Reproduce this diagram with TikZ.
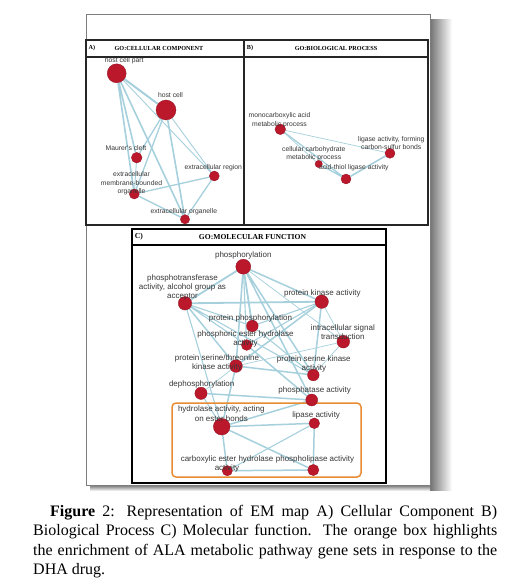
\documentclass[tikz,border=0pt]{standalone}
\usepackage{fontspec}
\setmainfont{Liberation Serif}
\newfontfamily\mapfont{Liberation Sans}
\usetikzlibrary{positioning,backgrounds}
\definecolor{termred}{RGB}{188,24,44}
\definecolor{edgeblue}{RGB}{166,208,220}
\definecolor{boxorange}{RGB}{232,140,52}
\definecolor{labelgrey}{RGB}{55,55,55}
\definecolor{framegrey}{RGB}{125,125,125}

\begin{document}
\begin{tikzpicture}[x=1pt, y=-1pt,
    term/.style={circle, fill=termred, draw=termred!75!black, line width=0.3pt,
                 inner sep=0pt, minimum size=#1},
    term/.default=10pt,
    lbl/.style={font=\mapfont\fontsize{6.8}{8.5}\selectfont, text=labelgrey,
                align=center, inner sep=0pt},
    lblbig/.style={lbl, font=\mapfont\fontsize{8}{9.2}\selectfont},
    link/.style={draw=edgeblue, line width=#1},
    link/.default=1.2pt,
    head/.style={font=\fontsize{6.2}{7}\selectfont\bfseries, inner sep=0pt},
    panel/.style={draw=black!85, line width=1.2pt}]
\useasboundingbox (0,0) rectangle (509,585);
\begin{scope}[on background layer]
\fill[white] (0,0) rectangle (509,585);
\end{scope}
% page shadow and frame
\shade[left color=black!55, right color=white] (430,20) rectangle (452,490);
\shade[top color=black!55, bottom color=white] (90,485) rectangle (430,491);
\draw[framegrey, line width=0.8pt] (86,14) rectangle (430,485);
% panels A and B
\draw[panel] (86,40) rectangle (428,225);
\draw[panel] (86,57) -- (428,57);
\draw[panel] (244,40) -- (244,225);
\node[head] (ha) at (92,48.5) {A)};
\node[head] (ta) at (159,48.5) {GO:CELLULAR COMPONENT};
\node[head] (hb) at (250,48.5) {B)};
\node[head] (tb) at (336,48.5) {GO:BIOLOGICAL PROCESS};
% panel C
\draw[panel, draw=black, line width=1.5pt] (132,229) rectangle (386,483);
\draw[panel, draw=black, line width=1.5pt] (132,245) -- (386,245);
\node[head, font=\fontsize{7.6}{8}\selectfont\bfseries] (hc) at (139,237) {C)};
\node[head, font=\fontsize{7.6}{8}\selectfont\bfseries] (tc) at (252.5,237) {GO:MOLECULAR FUNCTION};
% orange highlight box
\draw[boxorange, line width=1.5pt, rounded corners=4pt] (172,403) rectangle (361,477);

% A) cellular component
\node[term=19pt] (hcp) at (116.7,73.3) {};
\node[term=20pt] (hcl) at (166,110) {};
\node[term=10.7pt] (mc) at (136.7,157.7) {};
\node[term=10pt] (er) at (214.3,176) {};
\node[term=10pt] (emb) at (134.3,194) {};
\node[term=9.3pt] (eo) at (185,219.3) {};
\node[lbl] (l-hcp) at (124.2,60.7) {host cell part};
\node[lbl] (l-hcl) at (170.5,95) {host cell};
\node[lbl] (l-mc) at (126,148.3) {Maurer's cleft};
\node[lbl] (l-er) at (213.3,167.3) {extracellular region};
\node[lbl] (l-emb) at (131.5,183.5) {extracellular\\membrane-bounded\\organelle};
\node[lbl] (l-eo) at (183.8,211.7) {extracellular organelle};

% B) biological process
\node[term=10.7pt] (mono) at (280.3,129.3) {};
\node[term=7.3pt] (carb) at (318.7,164) {};
\node[term=10pt] (lig) at (390,153.3) {};
\node[term=10pt] (thiol) at (346,179) {};
\node[lbl] (l-mono) at (279.5,120.3) {monocarboxylic acid\\metabolic process};
\node[lbl] (l-carb) at (313.8,153.7) {cellular carbohydrate\\metabolic process};
\node[lbl] (l-lig) at (391.2,143) {ligase activity, forming\\carbon-sulfur bonds};
\node[lbl] (l-thiol) at (353.8,167.7) {acid-thiol ligase activity};

% C) molecular function
\node[term=15pt] (phos) at (243.3,266.7) {};
\node[term=13.5pt] (ptr) at (185,303.3) {};
\node[term=13.5pt] (pk) at (321.7,301.7) {};
\node[term=11.7pt] (pp) at (252.3,326) {};
\node[term=10.8pt] (peh) at (246.7,345) {};
\node[term=12.7pt] (isig) at (343.3,341.7) {};
\node[term=12.7pt] (pst) at (236,366) {};
\node[term=11.7pt] (psk) at (313.3,375) {};
\node[term=12.3pt] (deph) at (201,393.3) {};
\node[term=12pt] (pa) at (311.7,400) {};
\node[term=16.7pt] (hyd) at (221.7,426.7) {};
\node[term=10.7pt] (lip) at (314.3,423.3) {};
\node[term=10.3pt] (ceh) at (227.3,470.7) {};
\node[term=11.3pt] (plip) at (313.3,470) {};
\node[lblbig] (l-phos) at (243.3,255.7) {phosphorylation};
\node[lblbig] (l-ptr) at (182.5,287.5) {phosphotransferase\\activity, alcohol group as\\acceptor};
\node[lblbig] (l-pk) at (322.3,293.3) {protein kinase activity};
\node[lblbig] (l-pp) at (250.5,318.3) {protein phosphorylation};
\node[lblbig] (l-peh) at (245.5,338.8) {phosphoric ester hydrolase\\activity};
\node[lblbig] (l-isig) at (342.8,332.5) {intracellular signal\\transduction};
\node[lblbig] (l-pst) at (217,362.8) {protein serine/threonine\\kinase activity};
\node[lblbig] (l-psk) at (313.8,364) {protein serine kinase\\activity};
\node[lblbig] (l-deph) at (201.7,384) {dephosphorylation};
\node[lblbig] (l-pa) at (314.7,390.7) {phosphatase activity};
\node[lblbig] (l-hyd) at (221.3,413.7) {hydrolase activity, acting\\on ester bonds};
\node[lblbig] (l-lip) at (316.2,415.7) {lipase activity};
\node[lblbig] (l-ceh) at (227,464.3) {carboxylic ester hydrolase\\activity};
\node[lblbig] (l-plip) at (315,459.3) {phospholipase activity};

% similarity edges, kept behind the terms
\begin{scope}[on background layer]
\draw[link=2pt] (hcp) -- (hcl);
\draw[link=1.6pt] (hcp) -- (mc) (hcp) -- (emb) (hcp) -- (eo) (hcl) -- (eo);
\draw[link=1.3pt] (hcl) -- (mc) (hcl) -- (emb) (emb) -- (er) (emb) -- (eo) (er) -- (eo);
\draw[link=0.9pt] (hcp) -- (er) (hcl) -- (er) (mc) -- (emb);
\draw[link=0.7pt] (mono) -- (carb) (mono) -- (lig);
\draw[link=1.3pt] (carb) -- (thiol) (mono) -- (thiol);
\draw[link=1.6pt] (thiol) -- (lig);
\draw[link=1.8pt] (phos) -- (ptr) (phos) -- (pp) (ptr) -- (pk);
\draw[link=1.5pt] (phos) -- (pk) (phos) -- (pst) (phos) -- (psk) (phos) -- (pa)
    (pk) -- (pst) (pk) -- (psk) (ptr) -- (pst) (pst) -- (psk) (pst) -- (hyd)
    (peh) -- (pa) (deph) -- (pa) (hyd) -- (pa) (hyd) -- (lip) (hyd) -- (plip)
    (hyd) -- (ceh) (lip) -- (plip) (ceh) -- (plip);
\draw[link=1.1pt] (phos) -- (peh) (ptr) -- (pp) (ptr) -- (peh) (ptr) -- (psk)
    (ptr) -- (hyd) (pk) -- (pp) (pk) -- (peh) (pp) -- (psk) (deph) -- (hyd)
    (ceh) -- (lip);
\draw[link=0.7pt] (phos) -- (isig) (pk) -- (isig) (isig) -- (pst) (isig) -- (psk)
    (deph) -- (pst);
\end{scope}

% caption
\node[anchor=north west, text width=464pt, align=justify, inner sep=0pt,
      font=\fontsize{16}{19.4}\selectfont] (cap) at (33,505)
  {\hspace*{17pt}\textbf{Figure} 2: Representation of EM map A) Cellular Component B)\linebreak
   Biological Process C) Molecular function. The orange box highlights\linebreak
   the enrichment of ALA metabolic pathway gene sets in response to the\linebreak
   DHA drug.};
\end{tikzpicture}
\end{document}
